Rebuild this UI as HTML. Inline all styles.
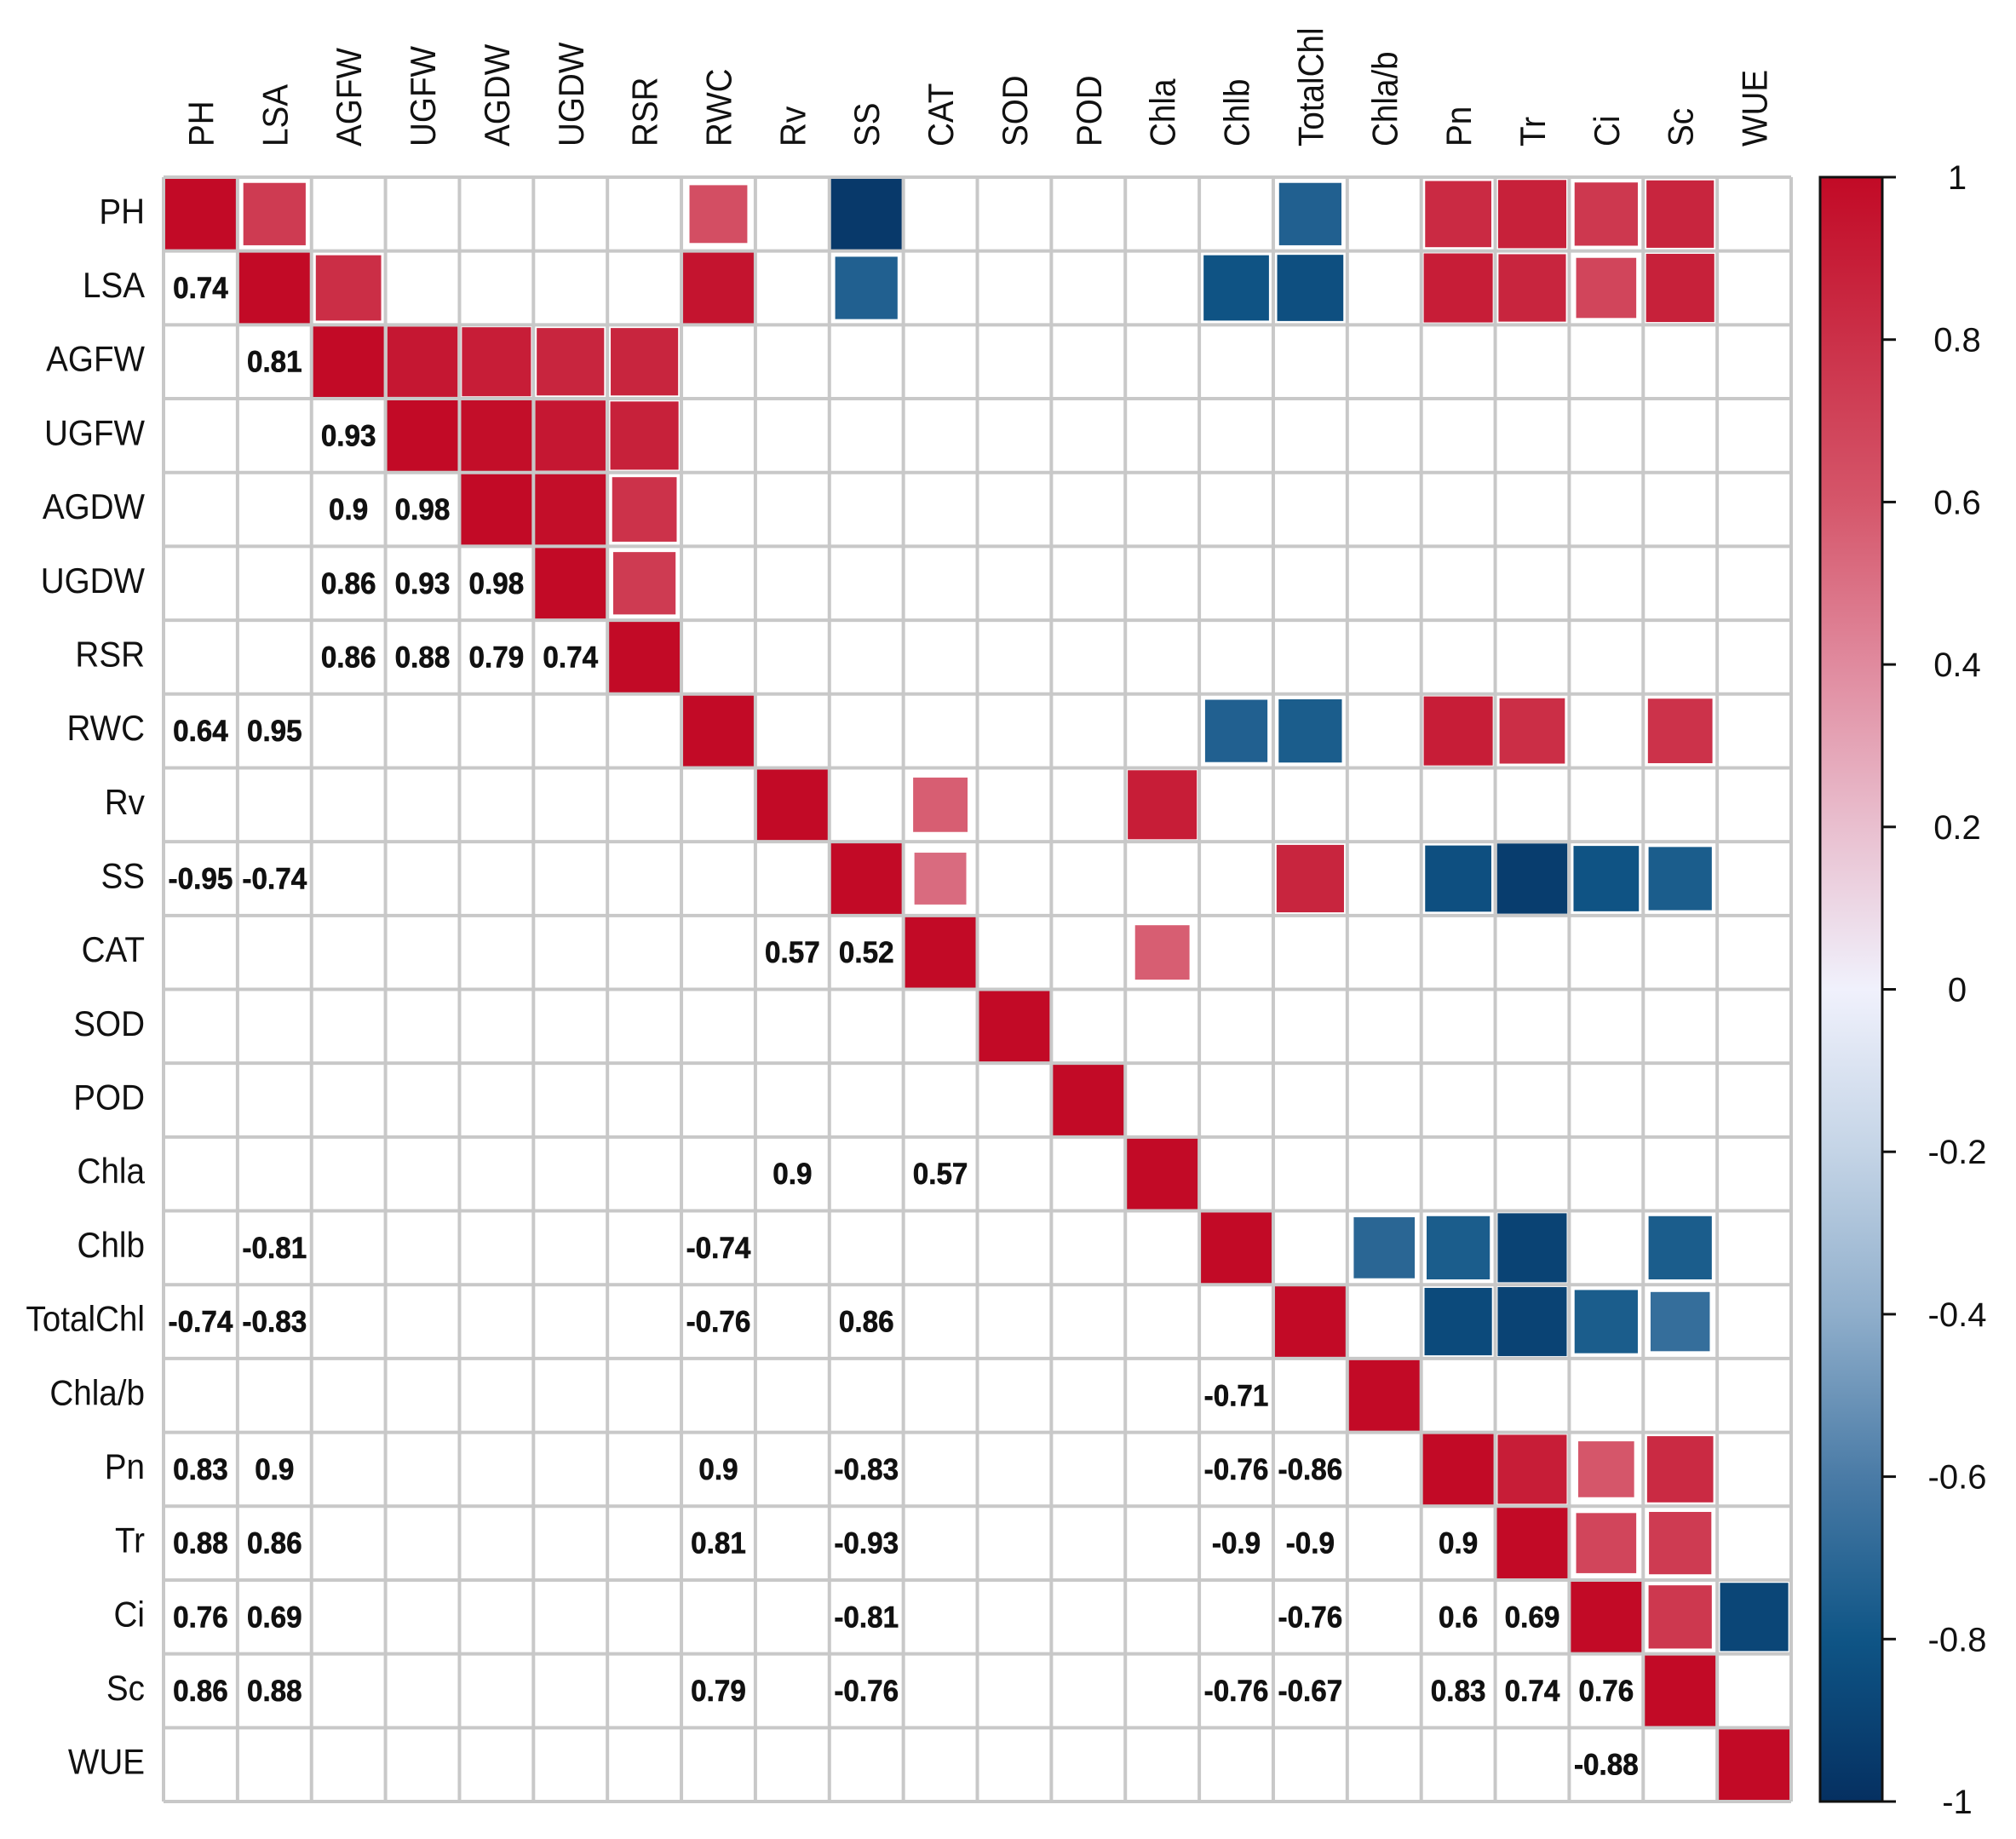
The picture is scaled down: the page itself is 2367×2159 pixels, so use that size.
<!DOCTYPE html>
<html><head><meta charset="utf-8"><style>
html,body{margin:0;padding:0;background:#fff;}
svg{display:block;}
text{font-family:"Liberation Sans",sans-serif;}
</style></head><body>
<svg id="chart" width="2367" height="2159" viewBox="0 0 2367 2159" xmlns="http://www.w3.org/2000/svg">
<rect width="2367" height="2159" fill="#fff"/>
<defs>
<linearGradient id="cbg" x1="0" y1="0" x2="0" y2="1">
<stop offset="0" stop-color="#C20A26"/>
<stop offset="0.1" stop-color="#CB3048"/>
<stop offset="0.2" stop-color="#D5566A"/>
<stop offset="0.3" stop-color="#E08A9E"/>
<stop offset="0.4" stop-color="#E9BFCF"/>
<stop offset="0.5" stop-color="#F0F1FC"/>
<stop offset="0.6" stop-color="#C4D4E6"/>
<stop offset="0.7" stop-color="#8FAECB"/>
<stop offset="0.8" stop-color="#4A7BA6"/>
<stop offset="0.9" stop-color="#0F5586"/>
<stop offset="1" stop-color="#053061"/>
</linearGradient>
</defs>
<g id="cells"></g>
<g id="grid"></g>
<g id="texts"></g>
<g id="labels"></g>
<g id="legend"></g>
</svg>
<script>
const vars = ["PH","LSA","AGFW","UGFW","AGDW","UGDW","RSR","RWC","Rv","SS","CAT","SOD","POD","Chla","Chlb","TotalChl","Chla/b","Pn","Tr","Ci","Sc","WUE"];
const pairRows = ["LSA","AGFW","UGFW","AGDW","AGDW","UGDW","UGDW","UGDW","RSR","RSR","RSR","RSR","RWC","RWC","SS","SS","CAT","CAT","Chla","Chla","Chlb","Chlb","TotalChl","TotalChl","TotalChl","TotalChl","Chla/b","Pn","Pn","Pn","Pn","Pn","Pn","Tr","Tr","Tr","Tr","Tr","Tr","Tr","Ci","Ci","Ci","Ci","Ci","Ci","Sc","Sc","Sc","Sc","Sc","Sc","Sc","Sc","Sc","WUE"];
const pairCols = ["PH","LSA","AGFW","AGFW","UGFW","AGFW","UGFW","AGDW","AGFW","UGFW","AGDW","UGDW","PH","LSA","PH","LSA","Rv","SS","Rv","CAT","LSA","RWC","PH","LSA","RWC","SS","Chlb","PH","LSA","RWC","SS","Chlb","TotalChl","PH","LSA","RWC","SS","Chlb","TotalChl","Pn","PH","LSA","SS","TotalChl","Pn","Tr","PH","LSA","RWC","SS","Chlb","TotalChl","Pn","Tr","Ci","Ci"];
const pairVals = [0.74,0.81,0.93,0.9,0.98,0.86,0.93,0.98,0.86,0.88,0.79,0.74,0.64,0.95,-0.95,-0.74,0.57,0.52,0.9,0.57,-0.81,-0.74,-0.74,-0.83,-0.76,0.86,-0.71,0.83,0.9,0.9,-0.83,-0.76,-0.86,0.88,0.86,0.81,-0.93,-0.9,-0.9,0.9,0.76,0.69,-0.81,-0.76,0.6,0.69,0.86,0.88,0.79,-0.76,-0.76,-0.67,0.83,0.74,0.76,-0.88];
const legendTicks = [1,0.8,0.6,0.4,0.2,0,-0.2,-0.4,-0.6,-0.8,-1];

const NS="http://www.w3.org/2000/svg";
const X0=192, Y0=208, W=2103-192, H=2115-208, n=vars.length;
const cw=W/n, ch=H/n;
const cx = i => X0 + cw*(i+0.5);
const cy = i => Y0 + ch*(i+0.5);
const stops=[[-1,[5,48,97]],[-0.8,[15,85,134]],[-0.6,[74,123,166]],[-0.4,[143,174,203]],[-0.2,[196,212,230]],[0,[240,241,252]],[0.2,[233,191,207]],[0.4,[224,138,158]],[0.6,[213,86,106]],[0.8,[203,48,72]],[1,[194,10,38]]];
function color(v){
  for(let k=0;k<stops.length-1;k++){
    const a=stops[k],b=stops[k+1];
    if(v>=a[0]&&v<=b[0]){const t=(v-a[0])/(b[0]-a[0]);
      const c=a[1].map((x,j)=>Math.round(x+(b[1][j]-x)*t));return `rgb(${c})`;}
  }
  return v>0?"rgb(194,10,38)":"rgb(5,48,97)";
}
function mk(tag,attrs,parent){const e=document.createElementNS(NS,tag);for(const k in attrs)e.setAttribute(k,attrs[k]);parent.appendChild(e);return e;}
const cells=document.getElementById('cells'), grid=document.getElementById('grid'), texts=document.getElementById('texts'), labels=document.getElementById('labels'), legend=document.getElementById('legend');

function square(r,c,v){
  const s=Math.min(cw,Math.sqrt(Math.abs(v))*cw*1.02);
  const e=mk('rect',{x:cx(c)-s/2,y:cy(r)-s/2,width:s,height:s,fill:color(v),stroke:'#fff','stroke-width':Math.abs(v)<0.97?3:0},cells);
  
  
}
for(let i=0;i<n;i++) square(i,i,1);
for(let k=0;k<pairVals.length;k++){
  const r=vars.indexOf(pairRows[k]), c=vars.indexOf(pairCols[k]), v=pairVals[k];
  square(c,r,v);
  const t=mk('text',{x:0,y:0,'text-anchor':'middle','font-size':35,'font-weight':'bold',fill:'#111',stroke:'#111','stroke-width':0.6,transform:`translate(${cx(c)},${cy(r)+12}) scale(0.95,1)`},texts);
  t.textContent=String(v);
  
  
}
for(let i=0;i<=n;i++){
  mk('line',{x1:X0+cw*i,x2:X0+cw*i,y1:Y0,y2:Y0+H,stroke:'#C8C8C8','stroke-width':4},grid);
  mk('line',{x1:X0,x2:X0+W,y1:Y0+ch*i,y2:Y0+ch*i,stroke:'#C8C8C8','stroke-width':4},grid);
}
vars.forEach((name,i)=>{
  const t=mk('text',{x:0,y:0,'text-anchor':'end','font-size':42,fill:'#111',transform:`translate(170,${cy(i)+11}) scale(0.92,1)`},labels);
  t.textContent=name;
  
  
  const u=mk('text',{x:0,y:0,'text-anchor':'start','font-size':42,fill:'#111',transform:`translate(${cx(i)+15},172) rotate(-90) scale(0.92,1)`},labels);
  u.textContent=name;
  
  
});
const LB=2115, LT=208;
const ly = v => LB - (v+1)/2*(LB-LT);
const bar=mk('rect',{x:2137,y:LT,width:73,height:LB-LT,fill:'url(#cbg)',stroke:'#111','stroke-width':3},legend);


legendTicks.forEach(v=>{
  mk('line',{x1:2210,x2:2226,y1:ly(v),y2:ly(v),stroke:'#111','stroke-width':3},legend);
  const t=mk('text',{x:2298,y:ly(v)+14,'text-anchor':'middle','font-size':40,fill:'#111'},legend);
  t.textContent=String(v);
  
  
});
</script>
</body></html>
